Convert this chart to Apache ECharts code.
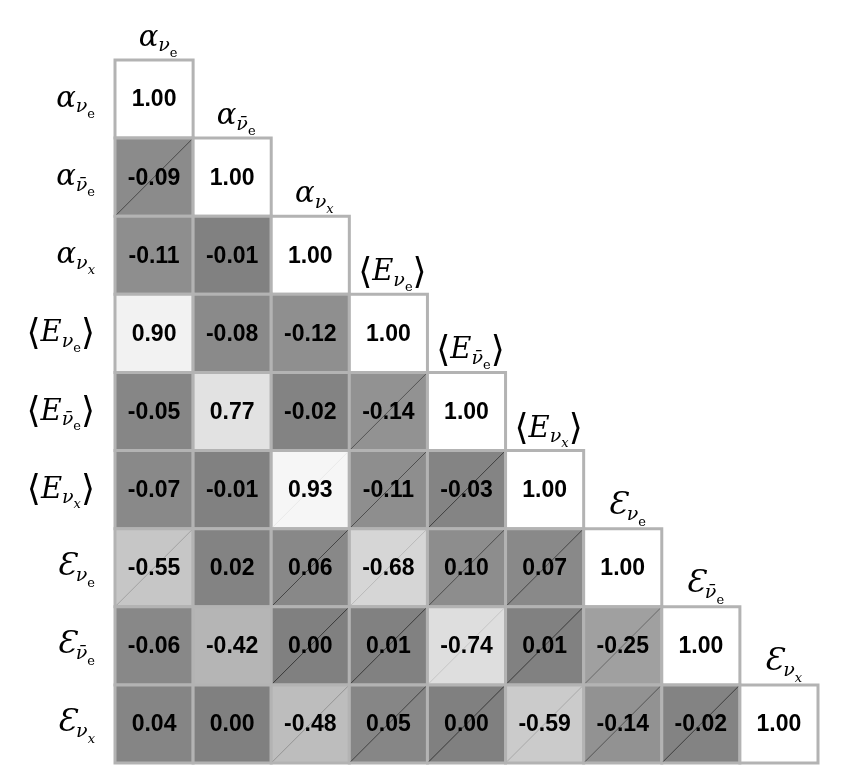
<!DOCTYPE html>
<html>
<head>
<meta charset="utf-8">
<script src="https://cdn.jsdelivr.net/npm/echarts@6/dist/echarts.min.js"></script>
<style>
html,body{margin:0;padding:0;background:#fff}
#chart{width:843px;height:777px}
</style>
</head>
<body>
<div id="chart"></div>
<script>
// Parameter names (row and column order of the triangular matrix)
const categories = ['α_νe', 'α_ν̄e', 'α_νx', '⟨E_νe⟩', '⟨E_ν̄e⟩', '⟨E_νx⟩', 'Ɛ_νe', 'Ɛ_ν̄e', 'Ɛ_νx'];

// Lower-triangular correlation values, row by row
const correlations = [
  [1.00],
  [-0.09, 1.00],
  [-0.11, -0.01, 1.00],
  [0.90, -0.08, -0.12, 1.00],
  [-0.05, 0.77, -0.02, -0.14, 1.00],
  [-0.07, -0.01, 0.93, -0.11, -0.03, 1.00],
  [-0.55, 0.02, 0.06, -0.68, 0.10, 0.07, 1.00],
  [-0.06, -0.42, 0.00, 0.01, -0.74, 0.01, -0.25, 1.00],
  [0.04, 0.00, -0.48, 0.05, 0.00, -0.59, -0.14, -0.02, 1.00]
];

// Cells marked with a diagonal stroke in the reference (1 = marked)
const marked = [
  [0],
  [1, 0],
  [0, 0, 0],
  [0, 0, 0, 0],
  [0, 0, 0, 1, 0],
  [0, 0, 1, 1, 1, 0],
  [1, 0, 1, 1, 1, 1, 0],
  [0, 0, 1, 1, 1, 1, 1, 0],
  [0, 0, 1, 1, 1, 1, 1, 1, 0]
];

const cells = [];
correlations.forEach((row, i) => {
  row.forEach((v, j) => cells.push([j, i, v, marked[i][j]]));
});

const SERIF = '"DejaVu Serif", serif';
const rich = {
  m:  { fontFamily: SERIF, fontStyle: 'italic', fontSize: 29, lineHeight: 36, verticalAlign: 'top', color: '#000', padding: [4, 0, 0, 0] },
  c:  { fontFamily: SERIF, fontStyle: 'italic', fontSize: 31, lineHeight: 36, verticalAlign: 'top', color: '#000', padding: [2, 0, 0, 0] },
  br: { fontFamily: SERIF, fontSize: 36, lineHeight: 36, verticalAlign: 'top', color: '#000', padding: [1, 0, 0, 0] },
  s:  { fontFamily: SERIF, fontStyle: 'italic', fontSize: 19, lineHeight: 36, verticalAlign: 'top', color: '#000', padding: [17, 0, 0, 0] },
  te: { fontFamily: SERIF, fontSize: 13, lineHeight: 36, verticalAlign: 'top', color: '#000', padding: [27, 0, 0, 0] },
  tx: { fontFamily: SERIF, fontStyle: 'italic', fontSize: 13, lineHeight: 36, verticalAlign: 'top', color: '#000', padding: [27, 0, 0, 0] }
};

function richLabel(name) {
  let parts = name.split('_');
  let base = parts[0], sub = parts[1];
  let out = '';
  let close = '';
  if (base.charAt(0) === '⟨') { out += '{br|⟨}'; base = base.slice(1); }
  out += '{' + (base === 'Ɛ' ? 'c' : 'm') + '|' + base + '}';
  if (sub.charAt(sub.length - 1) === '⟩') { close = '{br|⟩}'; sub = sub.slice(0, -1); }
  const last = sub.charAt(sub.length - 1);
  const nu = sub.slice(0, -1);
  out += '{s|' + nu + '}{' + (last === 'x' ? 'tx' : 'te') + '|' + last + '}' + close;
  return out;
}

function renderItem(params, api) {
  const col = api.value(0), row = api.value(1), v = api.value(2), mk = api.value(3);
  const c = api.coord([col, row]);
  const sz = api.size([1, 1]);
  const w = sz[0], h = sz[1];
  const x = c[0] - w / 2, y = c[1] - h / 2;
  const g = Math.round(128 + 127 * Math.abs(v));
  const fill = 'rgb(' + g + ',' + g + ',' + g + ')';
  const children = [{
    type: 'rect',
    shape: { x: x, y: y, width: w, height: h },
    style: { fill: fill, stroke: '#b3b3b3', lineWidth: 3 }
  }];
  if (mk) {
    const lg = Math.max(0, Math.round(g - 0.5 * (255 - g) - 8));
    children.push({
      type: 'line',
      shape: { x1: x + 1.5, y1: y + h - 1.5, x2: x + w - 1.5, y2: y + 1.5 },
      style: { stroke: 'rgb(' + lg + ',' + lg + ',' + lg + ')', lineWidth: 1 }
    });
  }
  children.push({
    type: 'text',
    style: {
      text: v.toFixed(2), x: c[0], y: c[1] + 1, align: 'center', verticalAlign: 'middle',
      fontFamily: '"Liberation Sans", Arial, sans-serif', fontWeight: 'bold', fontSize: 23, fill: '#000'
    }
  });
  if (col === row) {
    children.push({
      type: 'text',
      style: {
        text: richLabel(categories[col]), rich: rich,
        x: c[0] + 4, y: y - 40, align: 'center', verticalAlign: 'top'
      }
    });
  }
  return { type: 'group', children: children };
}

const chart = echarts.init(document.getElementById('chart'), null, { renderer: 'canvas' });
chart.setOption({
  animation: false,
  backgroundColor: '#fff',
  grid: { left: 115, top: 60, width: 703, height: 703 },
  xAxis: {
    type: 'category', data: categories, position: 'top',
    axisLine: { show: false }, axisTick: { show: false }, axisLabel: { show: false }, splitLine: { show: false }
  },
  yAxis: {
    type: 'category', data: categories, inverse: true,
    axisLine: { show: false }, axisTick: { show: false }, splitLine: { show: false },
    axisLabel: {
      margin: 20, align: 'right', verticalAlign: 'middle',
      formatter: function (val) { return richLabel(val); },
      rich: rich
    }
  },
  series: [{
    type: 'custom',
    renderItem: renderItem,
    data: cells,
    encode: { x: 0, y: 1 },
    clip: false
  }]
});
</script>
</body>
</html>
